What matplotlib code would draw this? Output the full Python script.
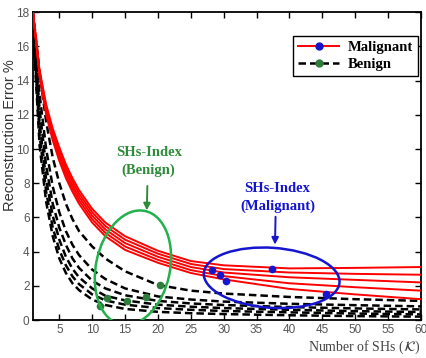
import matplotlib
matplotlib.use("Agg")
import matplotlib.pyplot as plt
from matplotlib.patches import Ellipse
import matplotlib.transforms as mtransforms

# ---------------- data ----------------
k_values = [1, 2, 3, 4, 5, 6, 7, 8, 10, 12, 15, 20, 25, 30, 40, 50, 60]

malignant_curves = [
    [18.0, 14.6, 12.6, 11.2, 10.1, 9.1, 8.3, 7.6, 6.5, 5.7, 4.9, 4.05, 3.45, 3.2, 3.02, 3.05, 3.1],
    [18.0, 14.5, 12.5, 11.0, 9.9, 8.9, 8.1, 7.4, 6.3, 5.5, 4.7, 3.88, 3.28, 2.98, 2.78, 2.7, 2.65],
    [18.0, 14.4, 12.3, 10.8, 9.7, 8.7, 7.9, 7.2, 6.1, 5.3, 4.5, 3.7, 3.1, 2.78, 2.5, 2.35, 2.2],
    [18.0, 14.3, 12.2, 10.7, 9.5, 8.5, 7.7, 7.0, 5.9, 5.1, 4.3, 3.52, 2.92, 2.57, 2.15, 1.92, 1.72],
    [18.0, 14.2, 12.0, 10.5, 9.3, 8.3, 7.5, 6.8, 5.7, 4.9, 4.1, 3.35, 2.75, 2.38, 1.82, 1.5, 1.22],
]

benign_curves = [
    [18.0, 14.5, 11.6, 9.5, 8.0, 6.8, 5.9, 5.2, 4.3, 3.6, 2.85, 2.05, 1.72, 1.55, 1.35, 1.22, 1.12],
    [17.8, 13.2, 10.0, 7.8, 6.3, 5.2, 4.4, 3.8, 2.95, 2.4, 1.85, 1.38, 1.2, 1.08, 0.95, 0.87, 0.8],
    [17.6, 12.3, 9.0, 6.8, 5.4, 4.4, 3.6, 3.05, 2.3, 1.85, 1.45, 1.12, 0.97, 0.88, 0.76, 0.68, 0.62],
    [17.4, 11.5, 8.2, 6.1, 4.7, 3.7, 3.0, 2.5, 1.85, 1.42, 1.15, 0.9, 0.78, 0.7, 0.6, 0.52, 0.47],
    [17.2, 10.8, 7.5, 5.4, 4.1, 3.2, 2.55, 2.1, 1.5, 1.15, 0.9, 0.7, 0.6, 0.53, 0.45, 0.38, 0.33],
    [17.0, 10.2, 6.9, 4.9, 3.6, 2.75, 2.15, 1.75, 1.2, 0.88, 0.65, 0.48, 0.4, 0.35, 0.28, 0.23, 0.2],
]

malignant_idx_k = [28.3, 29.4, 30.4, 37.4, 45.5]
malignant_idx_err = [2.94, 2.65, 2.29, 2.98, 1.51]

benign_idx_k = [11.2, 12.3, 15.3, 18.2, 20.3]
benign_idx_err = [0.84, 1.31, 1.14, 1.37, 2.04]

x_ticks = [5, 10, 15, 20, 25, 30, 35, 40, 45, 50, 55, 60]
y_ticks = [0, 2, 4, 6, 8, 10, 12, 14, 16, 18]

# ---------------- figure ----------------
fig = plt.figure(figsize=(4.26, 3.58), dpi=100)
ax = fig.add_axes([0.0775, 0.106, 0.9105, 0.86])

RED = "#ff0000"
BLUE = "#1515d0"
GREEN_M = "#2e7d3a"
GREEN_E = "#22b14c"
GREEN_T = "#2e8b3a"

for ys in malignant_curves:
    ax.plot(k_values, ys, color=RED, lw=1.4, solid_joinstyle="round", zorder=3)
for ys in benign_curves:
    ax.plot(k_values, ys, color="black", lw=1.8, ls=(0, (3.0, 1.6)), zorder=2)

ax.plot(malignant_idx_k, malignant_idx_err, "o", color=BLUE, ms=4.5, zorder=5)
ax.plot(benign_idx_k, benign_idx_err, "o", color=GREEN_M, ms=4.5, zorder=5)

# legend proxies
h1, = ax.plot([], [], color=RED, lw=1.4, marker="o", mfc=BLUE, mec=BLUE, ms=5)
h2, = ax.plot([], [], color="black", lw=1.8, ls=(0, (3.0, 1.6)), marker="o",
              mfc=GREEN_M, mec=GREEN_M, ms=5)
leg = ax.legend([h1, h2], ["Malignant", "Benign"], loc="upper right",
                bbox_to_anchor=(0.993, 0.922), borderaxespad=0, fancybox=False, framealpha=1,
                edgecolor="black", handlelength=2.8, borderpad=0.35,
                labelspacing=0.25, handletextpad=0.6,
                prop={"family": "Liberation Serif", "weight": "bold", "size": 10.5})
leg.get_frame().set_linewidth(1.0)

ax.set_xlim(1, 60)
ax.set_ylim(0, 18)
ax.set_xticks(x_ticks)
ax.set_yticks(y_ticks)
ax.tick_params(direction="in", top=True, right=True, length=4, width=1,
               labelsize=8.5, labelcolor="#555555", pad=2.5)
for lab in ax.get_xticklabels() + ax.get_yticklabels():
    lab.set_family("Liberation Sans")
for s in ax.spines.values():
    s.set_linewidth(1.3)

fig.text(10.0 / 426, 1 - 135 / 358, "Reconstruction Error %", rotation=90,
         ha="center", va="center", family="Liberation Sans", fontsize=10.5,
         color="#333333")
ax.set_xlabel(r"Number of SHs ($\mathcal{K}$)", family="Liberation Serif",
              fontsize=10, color="#444444", loc="right", labelpad=2)

# ellipses drawn in inch units centred on data points
def add_ellipse(cx, cy, w_in, h_in, angle, color):
    trans = fig.dpi_scale_trans + mtransforms.ScaledTranslation(cx, cy, ax.transData)
    e = Ellipse((0, 0), w_in, h_in, angle=angle, fill=False, edgecolor=color,
                lw=1.8, transform=trans, zorder=6)
    ax.add_patch(e)

add_ellipse(16.2, 3.06, 0.74, 1.16, -12, GREEN_E)
add_ellipse(37.3, 2.47, 1.36, 0.60, -4, BLUE)

# annotations
ax.annotate("", xy=(18.3, 6.25), xytext=(18.4, 8.0),
            arrowprops=dict(arrowstyle="-|>", color=GREEN_T, lw=1.4, mutation_scale=10), zorder=7)
ax.text(18.6, 9.25, "SHs-Index\n(Benign)", color=GREEN_T, ha="center", va="center",
        family="Liberation Serif", weight="bold", fontsize=10.5, linespacing=1.45)

ax.annotate("", xy=(37.8, 4.25), xytext=(37.9, 6.2),
            arrowprops=dict(arrowstyle="-|>", color=BLUE, lw=1.4, mutation_scale=10), zorder=7)
ax.text(38.2, 7.15, "SHs-Index\n(Malignant)", color=BLUE, ha="center", va="center",
        family="Liberation Serif", weight="bold", fontsize=10.5, linespacing=1.45)

fig.savefig("out.png", dpi=100)
